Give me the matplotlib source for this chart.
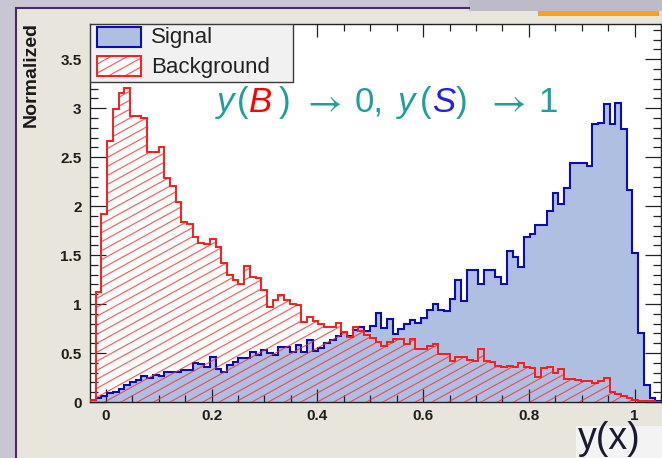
import matplotlib
matplotlib.use('Agg')
import matplotlib.pyplot as plt
import numpy as np
from matplotlib.patches import Rectangle
from matplotlib.collections import LineCollection
from matplotlib.lines import Line2D
from matplotlib.ticker import MultipleLocator, FixedLocator, FuncFormatter

plt.rcParams['font.family'] = ['Liberation Sans', 'DejaVu Sans']

# ---------------- data ----------------
x_min, x_max = -0.03, 1.05
n_bins = 100

signal = [
    0.02, 0.04, 0.06, 0.09, 0.10, 0.13, 0.17, 0.20, 0.22, 0.27,
    0.24, 0.28, 0.27, 0.31, 0.31, 0.31, 0.33, 0.33, 0.40, 0.39,
    0.36, 0.46, 0.34, 0.31, 0.38, 0.41, 0.45, 0.45, 0.51, 0.48,
    0.53, 0.50, 0.48, 0.56, 0.56, 0.51, 0.58, 0.51, 0.63, 0.52,
    0.55, 0.60, 0.63, 0.67, 0.71, 0.67, 0.74, 0.77, 0.73, 0.78,
    0.91, 0.76, 0.85, 0.69, 0.75, 0.80, 0.84, 0.81, 0.86, 0.94,
    1.00, 0.94, 0.93, 1.05, 1.25, 1.03, 1.35, 1.35, 1.20, 1.35,
    1.35, 1.28, 1.20, 1.54, 1.48, 1.38, 1.68, 1.72, 1.81, 1.81,
    1.95, 2.13, 2.02, 2.19, 2.44, 2.44, 2.44, 2.41, 2.84, 2.85,
    3.04, 2.84, 3.05, 2.79, 2.16, 1.52, 0.70, 0.17, 0.04, 0.01,
]

background = [
    0.02, 1.12, 1.92, 2.67, 2.99, 3.16, 3.21, 2.92, 2.92, 2.90,
    2.55, 2.55, 2.60, 2.29, 2.21, 2.04, 1.84, 1.82, 1.68, 1.62,
    1.61, 1.66, 1.58, 1.42, 1.30, 1.25, 1.21, 1.39, 1.28, 1.27,
    1.14, 0.97, 1.04, 1.09, 1.04, 1.00, 0.99, 0.82, 0.87, 0.83,
    0.80, 0.77, 0.77, 0.81, 0.71, 0.66, 0.77, 0.72, 0.68, 0.65,
    0.61, 0.57, 0.61, 0.64, 0.64, 0.59, 0.64, 0.54, 0.54, 0.57,
    0.59, 0.49, 0.49, 0.42, 0.46, 0.46, 0.43, 0.42, 0.54, 0.42,
    0.41, 0.37, 0.36, 0.37, 0.36, 0.40, 0.36, 0.35, 0.26, 0.35,
    0.36, 0.30, 0.34, 0.23, 0.23, 0.22, 0.21, 0.21, 0.19, 0.21,
    0.25, 0.10, 0.08, 0.06, 0.04, 0.02, 0.015, 0.01, 0.008, 0.005,
]

x_ticks = [0, 0.2, 0.4, 0.6, 0.8, 1]
y_ticks = [0, 0.5, 1, 1.5, 2, 2.5, 3, 3.5]
y_max = 3.86

series_labels = ["Signal", "Background"]
y_label = "Normalized"
x_label = "y(x)"

# ---------------- colours ----------------
sig_fill = '#aebfe1'
sig_edge = '#0c0cb4'
bkg_edge = '#ff1a1a'
hatch_col = '#ff2a2a'
teal = '#1f9e9e'

W, H = 662, 458
fig = plt.figure(figsize=(W / 100, H / 100), dpi=100)
fig.patch.set_facecolor('#c9c6d4')


def fx(px):
    return px / W


def fy(py):
    return 1 - py / H


# screenshot frame / panel
fig.add_artist(Rectangle((fx(16), 0), 1, fy(8), transform=fig.transFigure,
                         facecolor='#e8e6dc', edgecolor='none', zorder=-10))
fig.add_artist(Rectangle((fx(469), fy(11)), 1, 1, transform=fig.transFigure,
                         facecolor='#bebbc8', edgecolor='none', zorder=-9))
fig.add_artist(Rectangle((fx(538), fy(16)), fx(121), 5 / H, transform=fig.transFigure,
                         facecolor='#f6a21e', edgecolor='none', zorder=-8))
fig.add_artist(Line2D([fx(16), fx(16)], [0, fy(8)], transform=fig.transFigure,
                      color='#4a2a6a', lw=1.5, zorder=-7))
fig.add_artist(Line2D([fx(16), fx(469)], [fy(8), fy(8)], transform=fig.transFigure,
                      color='#4a2a6a', lw=1.5, zorder=-7))
fig.add_artist(Rectangle((fx(576), 0), 1, fy(426), transform=fig.transFigure,
                         facecolor='#f3f3f3', edgecolor='none', zorder=-6))

ax = fig.add_axes([fx(90), fy(402), (661 - 90) / W, (402 - 24) / H])
ax.set_facecolor('white')

edges = np.linspace(x_min, x_max, n_bins + 1)


def hatch_lines(ax, clip_patch, color, slope_px=0.55, spacing_px=9.0, lw=0.8,
                alpha=0.8, zorder=3):
    pos = ax.get_position()
    w_px = pos.width * W
    h_px = pos.height * H
    s = slope_px * w_px / h_px
    dc = spacing_px / h_px
    cs = np.arange(-s - dc, 1 + dc, dc)
    segs = [[(0, c), (1, c + s)] for c in cs]
    lc = LineCollection(segs, colors=color, linewidths=lw, alpha=alpha,
                        transform=ax.transAxes, zorder=zorder)
    ax.add_collection(lc, autolim=False)
    lc.set_clip_path(clip_patch)
    return lc


# signal
ax.stairs(signal, edges, fill=True, facecolor=sig_fill, edgecolor='none', zorder=1)
ax.stairs(signal, edges, color=sig_edge, lw=1.5, zorder=2)

# background (hatched)
clip_b = ax.stairs(background, edges, fill=True, facecolor='none', edgecolor='none', zorder=0)
hatch_lines(ax, clip_b, hatch_col)
ax.stairs(background, edges, color=bkg_edge, lw=1.4, zorder=4)

ax.set_xlim(x_min, x_max)
ax.set_ylim(0, y_max)

# ticks
ax.xaxis.set_major_locator(FixedLocator(x_ticks))
ax.xaxis.set_minor_locator(MultipleLocator(0.05))
ax.yaxis.set_major_locator(FixedLocator(y_ticks))
ax.yaxis.set_minor_locator(MultipleLocator(0.1))
fmt = FuncFormatter(lambda v, p: '%g' % v)
ax.xaxis.set_major_formatter(fmt)
ax.yaxis.set_major_formatter(fmt)
ax.tick_params(which='both', direction='in', top=True, right=True, colors='#222222',
               width=0.9)
ax.tick_params(axis='x', which='major', length=9.5, pad=5)
ax.tick_params(axis='x', which='minor', length=5)
ax.tick_params(axis='y', which='major', length=11.5, pad=6)
ax.tick_params(axis='y', which='minor', length=5.8)
for lab in ax.get_xticklabels() + ax.get_yticklabels():
    lab.set_fontweight('bold')
    lab.set_fontsize(11)
    lab.set_color('#1e1e1e')
for sp in ax.spines.values():
    sp.set_color('#222222')
    sp.set_linewidth(1.0)

# legend (manual, ROOT style)
pos = ax.get_position()
axw, axh = pos.width * W, pos.height * H


def ax_x(px):
    return (px - 90) / axw


def ax_y(py):
    return (402 - py) / axh


leg = Rectangle((0, ax_y(82)), ax_x(293), ax_y(24) - ax_y(82), transform=ax.transAxes,
                facecolor='#f1f1f1', edgecolor='#3a3a3a', lw=1.0, zorder=10)
ax.add_patch(leg)
p_sig = Rectangle((ax_x(97), ax_y(47)), ax_x(141) - ax_x(97), ax_y(27) - ax_y(47),
                  transform=ax.transAxes, facecolor=sig_fill, edgecolor=sig_edge,
                  lw=1.5, zorder=11)
ax.add_patch(p_sig)
p_bkg = Rectangle((ax_x(97), ax_y(76)), ax_x(141) - ax_x(97), ax_y(56) - ax_y(76),
                  transform=ax.transAxes, facecolor='white', edgecolor='none', zorder=11)
ax.add_patch(p_bkg)
hatch_lines(ax, p_bkg, hatch_col, zorder=12)
ax.add_patch(Rectangle((ax_x(97), ax_y(76)), ax_x(141) - ax_x(97), ax_y(56) - ax_y(76),
                       transform=ax.transAxes, facecolor='none', edgecolor=bkg_edge,
                       lw=1.4, zorder=13))
ax.text(ax_x(151), ax_y(38), series_labels[0], transform=ax.transAxes, fontsize=16,
        color='#222222', va='center', ha='left', zorder=14)
ax.text(ax_x(151), ax_y(67), series_labels[1], transform=ax.transAxes, fontsize=16,
        color='#222222', va='center', ha='left', zorder=14)

# y label
fig.text(fx(31), fy(22), y_label, rotation=90, fontsize=14, fontweight='bold',
         ha='center', va='top', color='#1a1a1a')

# x label in its box
fig.text(fx(578), fy(449), x_label, fontsize=27, color='#1a1a33', ha='left', va='baseline')

# annotation y(B) -> 0, y(S) -> 1  (pieces placed left to right, pixel x of each start)
pieces = [
    ("y", teal, 'italic', 217, False),
    ("(", teal, 'normal', 237, False),
    ("B", 'red', 'italic', 249, False),
    (")", teal, 'normal', 279, False),
    (r"$\rightarrow$", teal, 'normal', 302, True),
    ("0,", teal, 'normal', 355, False),
    ("y", teal, 'italic', 398, False),
    ("(", teal, 'normal', 420, False),
    ("S", '#2020e6', 'italic', 432, False),
    (")", teal, 'normal', 456, False),
    (r"$\rightarrow$", teal, 'normal', 486, True),
    ("1", teal, 'normal', 538, False),
]
for txt, col, style, xp, is_math in pieces:
    kw = {}
    if is_math:
        kw['math_fontfamily'] = 'stix'
        size = 27
    else:
        kw['family'] = ['Liberation Sans', 'DejaVu Sans']
        kw['style'] = style
        size = 25
    fig.text(fx(xp), fy(112), txt, color=col, fontsize=size,
             ha='left', va='baseline', **kw)

fig.savefig('out.png', dpi=100, facecolor=fig.get_facecolor())
